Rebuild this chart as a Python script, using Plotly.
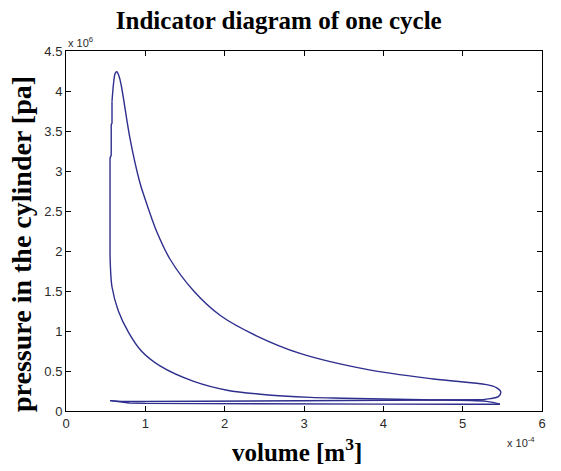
import plotly.graph_objects as go

# Cycle: volume in units of 1e-4 m^3, pressure in units of 1e6 Pa
intake_v = [0.555, 0.65, 0.8, 1.0, 2.0, 3.0, 4.0, 5.0, 5.47]
intake_p = [0.13, 0.115, 0.10, 0.095, 0.09, 0.088, 0.086, 0.085, 0.085]

compression_v = [5.47, 5.3, 4.5, 4.0, 3.5, 3.08, 2.45, 2.03, 1.61, 1.19, 0.95, 0.79,
                 0.66, 0.58, 0.56, 0.555]
compression_p = [0.085, 0.12, 0.14, 0.15, 0.16, 0.17, 0.21, 0.26, 0.37, 0.56, 0.75, 0.98,
                 1.25, 1.55, 1.80, 1.95]

combustion_v = [0.555, 0.555, 0.57, 0.57, 0.58, 0.58]
combustion_p = [1.95, 3.16, 3.20, 3.58, 3.60, 3.87]

expansion_v = [0.58, 0.60, 0.62, 0.64, 0.67, 0.70, 0.81, 0.93, 1.0, 1.08, 1.14, 1.31, 1.61, 1.95,
               2.40, 2.95, 3.79, 4.63, 5.30, 5.43, 5.48, 5.45, 5.35, 5.22]
expansion_p = [3.87, 4.10, 4.22, 4.24, 4.18, 4.05, 3.39, 2.86, 2.64, 2.41, 2.25, 1.90, 1.50, 1.19,
               0.94, 0.72, 0.52, 0.40, 0.33, 0.29, 0.24, 0.18, 0.155, 0.14]

exhaust_v = [5.22, 4.5, 4.0, 3.0, 2.0, 1.0, 0.7, 0.555]
exhaust_p = [0.14, 0.135, 0.13, 0.125, 0.12, 0.118, 0.12, 0.13]

x_ticks = [0, 1, 2, 3, 4, 5, 6]
y_ticks = [0, 0.5, 1, 1.5, 2, 2.5, 3, 3.5, 4, 4.5]
x_scale = 1e-4
y_scale = 1e6

line_color = "#2e2e8e"

fig = go.Figure()
segments = [
    (intake_v, intake_p, "linear"),
    (compression_v, compression_p, "spline"),
    (combustion_v, combustion_p, "linear"),
    (expansion_v, expansion_p, "spline"),
    (exhaust_v, exhaust_p, "linear"),
]
for vs, ps, shape in segments:
    fig.add_trace(go.Scatter(
        x=[v * x_scale for v in vs], y=[p * y_scale for p in ps], mode="lines",
        line=dict(color=line_color, width=1.4, shape=shape, smoothing=1.0),
        showlegend=False, hoverinfo="skip"))

sans = "Liberation Sans, Arial, sans-serif"
tickfont = dict(family=sans, size=13, color="#2a2a2a")
serif = "Liberation Serif, Times New Roman, serif"

fig.update_layout(
    width=561, height=471,
    margin=dict(l=66, r=19, t=51, b=60),
    paper_bgcolor="white", plot_bgcolor="white",
    title=dict(text="<b>Indicator diagram of one cycle</b>",
               font=dict(family=serif, size=25, color="black"),
               xref="paper", x=0.447, xanchor="center",
               yref="container", y=1 - 20 / 471, yanchor="middle"),
    xaxis=dict(range=[0, 6 * x_scale], tickvals=[t * x_scale for t in x_ticks],
               ticktext=[str(t) for t in x_ticks], ticks="inside", ticklen=5,
               showline=True, linecolor="black", linewidth=1, mirror="allticks",
               showgrid=False, zeroline=False, tickfont=tickfont, tickcolor="black"),
    yaxis=dict(range=[0, 4.5 * y_scale], tickvals=[t * y_scale for t in y_ticks],
               ticktext=[("%g" % t) for t in y_ticks], ticks="inside", ticklen=5,
               showline=True, linecolor="black", linewidth=1, mirror="allticks",
               showgrid=False, zeroline=False, tickfont=tickfont, tickcolor="black"),
    annotations=[
        dict(text="x 10<sup>6</sup>", xref="paper", yref="paper", x=0.0, y=1.0,
             xanchor="left", yanchor="bottom", showarrow=False,
             font=dict(family=sans, size=11, color="#2a2a2a")),
        dict(text="x 10<sup>-4</sup>", xref="paper", yref="paper", x=0.99, y=-0.06,
             xanchor="right", yanchor="top", showarrow=False,
             font=dict(family=sans, size=11, color="#2a2a2a")),
        dict(text="<b>volume [m<sup>3</sup>]</b>", xref="paper", yref="paper", x=0.485, y=-0.108,
             xanchor="center", yanchor="middle", showarrow=False,
             font=dict(family=serif, size=25, color="black")),
        dict(text="<b>pressure in the cylinder [pa]</b>", xref="paper", yref="paper",
             x=-0.0924, y=0.464, xanchor="center", yanchor="middle", textangle=-90,
             showarrow=False, font=dict(family=serif, size=28, color="black")),
    ],
)

fig.write_html("out.html", config={"displayModeBar": False},
               post_script="document.body.style.margin='0';document.body.style.overflow='hidden';")
